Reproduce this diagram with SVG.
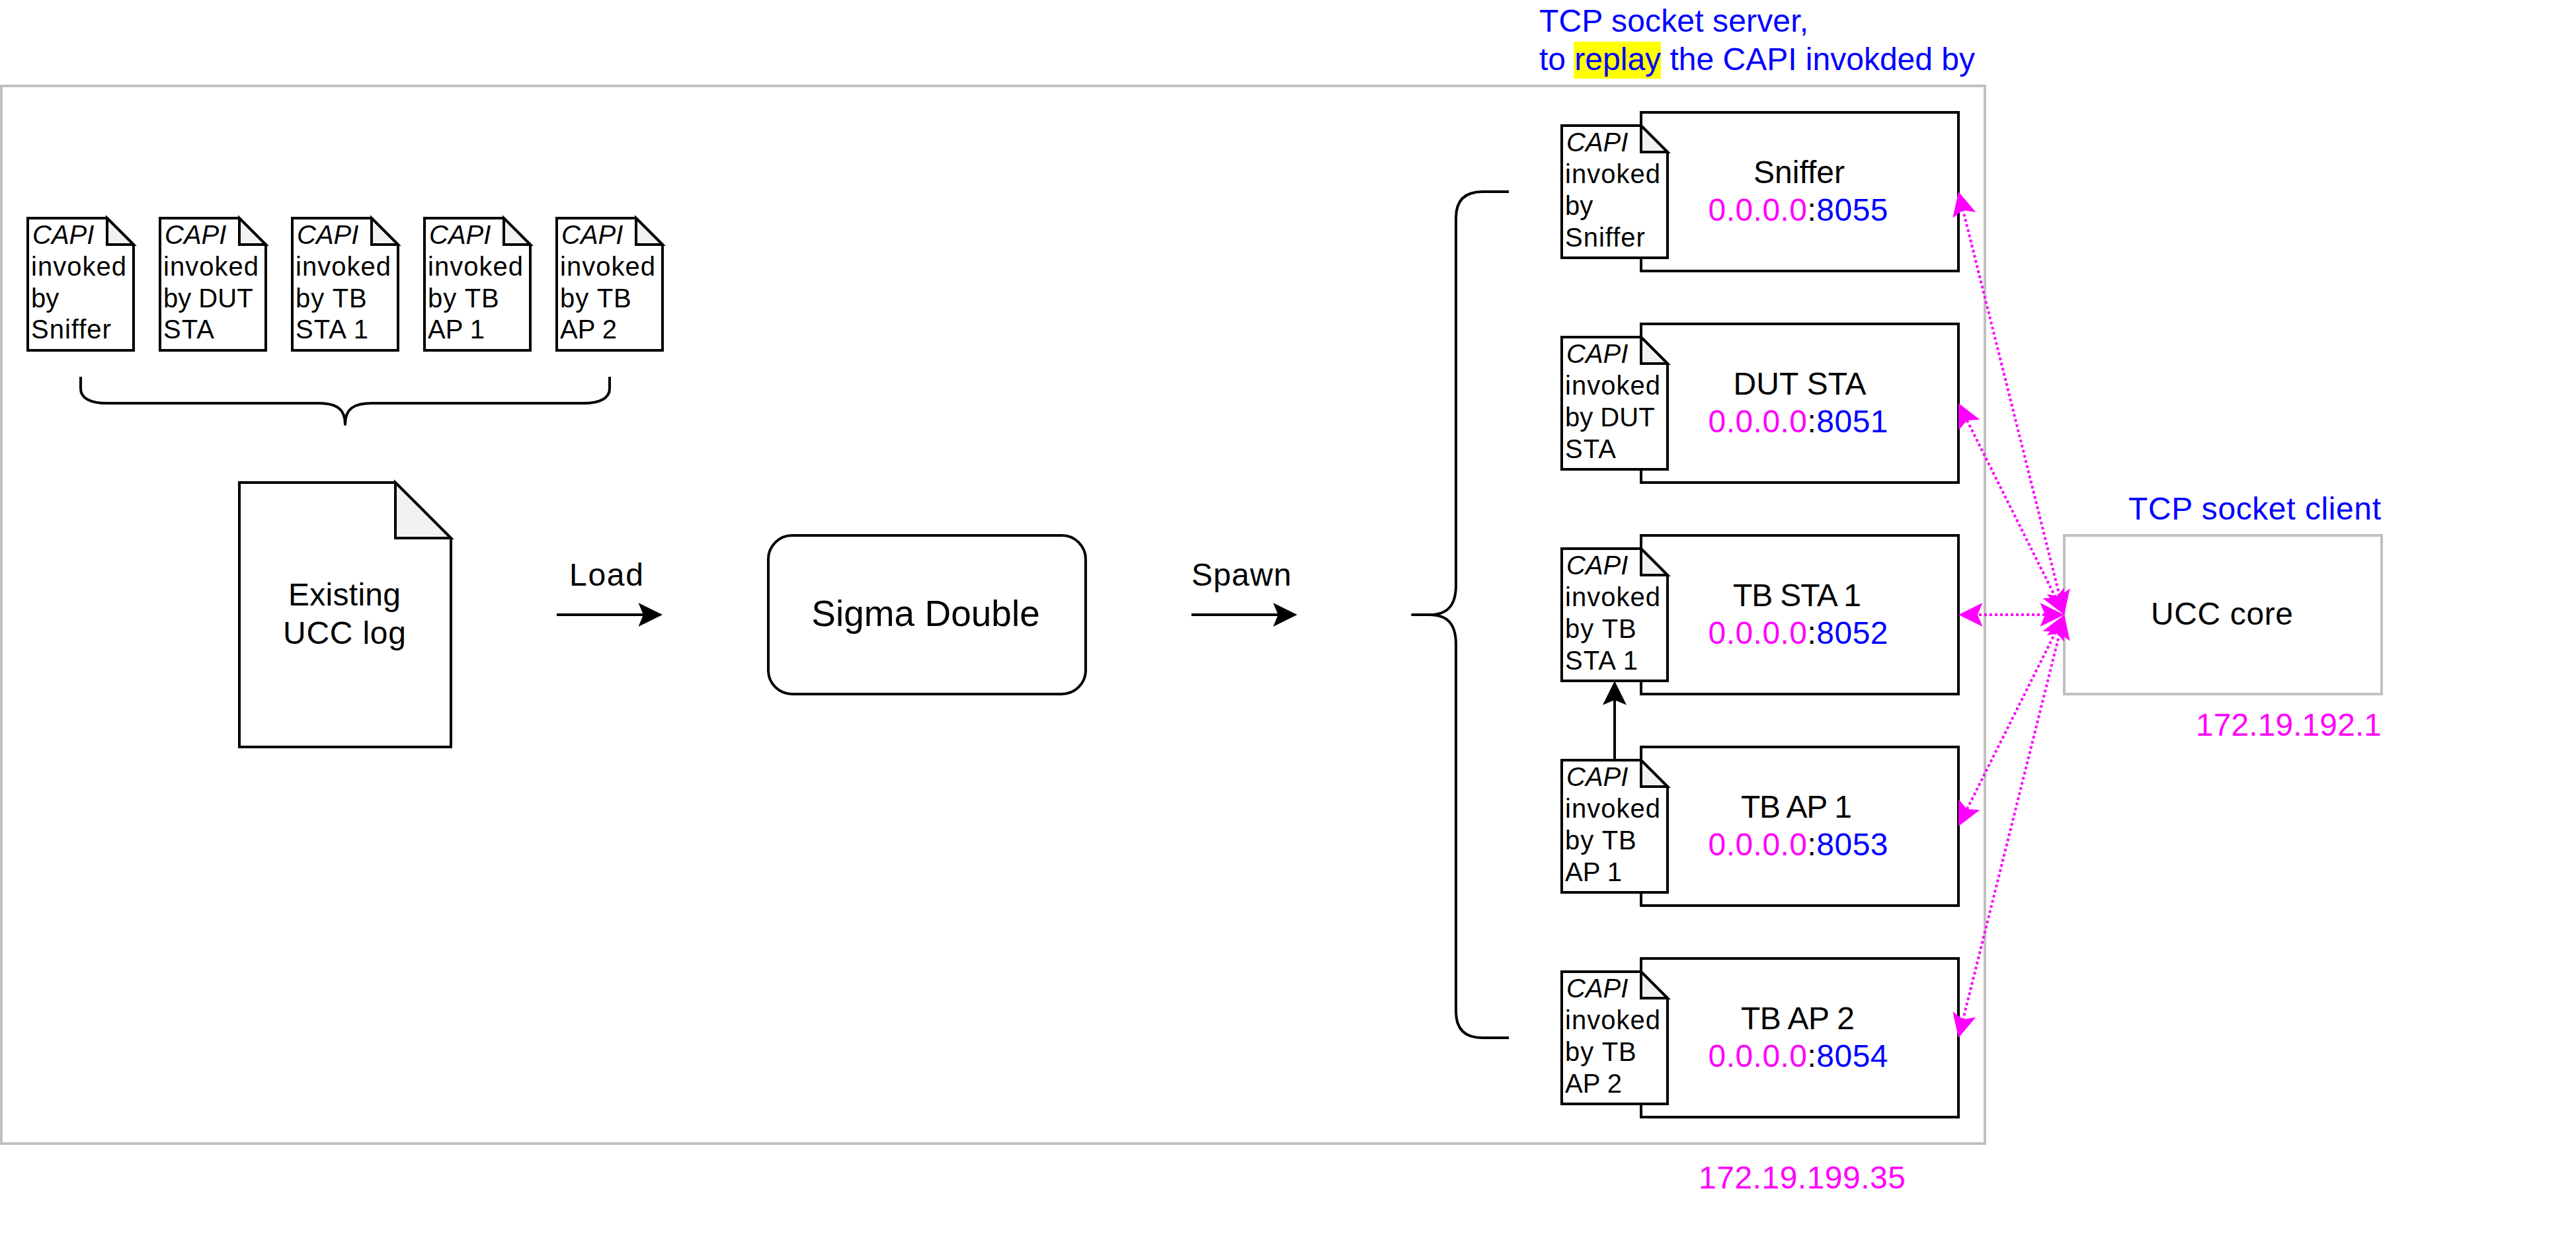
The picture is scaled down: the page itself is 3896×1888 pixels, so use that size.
<svg xmlns="http://www.w3.org/2000/svg" width="3896" height="1888" viewBox="0 0 3896 1888">
<style>
text{font-family:"Liberation Sans",Arial,Helvetica,sans-serif;fill:#000}
.t48{font-size:48px}
.t40{font-size:40px}
.t55{font-size:55px}
.m{text-anchor:middle}
.i{font-style:italic}
.ls{letter-spacing:1px}
.blue,.blue tspan{fill:#0000FF}
.mag{fill:#FF00FF}
.blu{fill:#0000FF}
.gray{fill:#FFFFFF;stroke:#C0C0C0;stroke-width:4}
.box{fill:#FFFFFF;stroke:#000;stroke-width:4}
.page{fill:#FFFFFF;stroke:#000;stroke-width:4;stroke-linejoin:miter}
.fold{fill:#F2F2F2;stroke:#000;stroke-width:4}
.brace{fill:none;stroke:#000;stroke-width:4;stroke-linejoin:round}
.arrow{fill:none;stroke:#000;stroke-width:4;marker-end:url(#headK)}
.link{fill:none;stroke:#FF00FF;stroke-width:4;stroke-dasharray:4 4;marker-start:url(#headM);marker-end:url(#headM)}
</style>
<defs>
<marker id="headK" markerUnits="userSpaceOnUse" markerWidth="37" markerHeight="36" refX="7.5" refY="18" orient="auto" overflow="visible"><path d="M36.5 18L0 0L7.5 18L0 36Z" fill="#000"/></marker>
<marker id="headM" markerUnits="userSpaceOnUse" markerWidth="37" markerHeight="36" refX="7.5" refY="18" orient="auto-start-reverse" overflow="visible"><path d="M36.5 18L0 0L7.5 18L0 36Z" fill="#FF00FF"/></marker>
<g id="note"><path class="page" d="M0 0H120L160 40V200H0Z"/><path class="fold" d="M120 0V40H160Z"/></g>
</defs>
<rect width="3896" height="1888" fill="#FFFFFF"/>
<g id="host-frame"><rect class="gray" x="2" y="130" width="3000" height="1600"/></g>

<g id="server-caption">
<rect x="2380" y="63" width="132" height="56" fill="#FFFF00"/>
<text class="t48 blue" x="2328" y="48" textLength="407">TCP socket server,</text>
<text class="t48 blue" x="2328" y="106">to replay the CAPI invokded by</text>
</g>

<g id="log-capi-sniffer"><use href="#note" x="42" y="330"/><text class="t40"><tspan class="i" x="49" y="369">CAPI</tspan><tspan class="ls" x="47" y="417">invoked</tspan><tspan x="47" y="465">by</tspan><tspan class="ls" x="47" y="512">Sniffer</tspan></text></g>
<g id="log-capi-dut"><use href="#note" x="242" y="330"/><text class="t40"><tspan class="i" x="249" y="369">CAPI</tspan><tspan class="ls" x="247" y="417">invoked</tspan><tspan x="247" y="465">by DUT</tspan><tspan class="ls" x="247" y="512">STA</tspan></text></g>
<g id="log-capi-sta1"><use href="#note" x="442" y="330"/><text class="t40"><tspan class="i" x="449" y="369">CAPI</tspan><tspan class="ls" x="447" y="417">invoked</tspan><tspan class="ls" x="447" y="465">by TB</tspan><tspan class="ls" x="447" y="512">STA 1</tspan></text></g>
<g id="log-capi-ap1"><use href="#note" x="642" y="330"/><text class="t40"><tspan class="i" x="649" y="369">CAPI</tspan><tspan class="ls" x="647" y="417">invoked</tspan><tspan class="ls" x="647" y="465">by TB</tspan><tspan x="647" y="512">AP 1</tspan></text></g>
<g id="log-capi-ap2"><use href="#note" x="842" y="330"/><text class="t40"><tspan class="i" x="849" y="369">CAPI</tspan><tspan class="ls" x="847" y="417">invoked</tspan><tspan class="ls" x="847" y="465">by TB</tspan><tspan x="847" y="512">AP 2</tspan></text></g>

<g id="brace-top"><path class="brace" d="M122 570V588C122 602 136 610 162 610H482C508 610 522 618 522 642C522 618 536 610 562 610H882C908 610 922 602 922 588V570"/></g>

<g id="existing-log">
<path class="page" d="M362 730H598L682 814V1130H362Z"/><path class="fold" d="M598 730V814H682Z"/>
<text class="t48" x="436" y="916" textLength="170">Existing</text>
<text class="t48" x="428" y="974" textLength="186">UCC log</text>
</g>
<g id="load-label"><text class="t48" x="861" y="886" textLength="112">Load</text></g>
<g id="sigma-double"><rect class="box" x="1162" y="810" width="480" height="240" rx="36" ry="36"/><text class="t55 m" x="1400" y="947">Sigma Double</text></g>
<g id="spawn-label"><text class="t48" x="1802" y="886" textLength="151">Spawn</text></g>
<g id="brace-right"><path class="brace" d="M2282 290H2242Q2202 290 2202 330V885C2202 915 2190 930 2162 930H2136H2162C2190 930 2202 945 2202 975V1530Q2202 1570 2242 1570H2282"/></g>

<g id="node-sniffer"><rect class="box" x="2482" y="170" width="480" height="240"/><use href="#note" x="2362" y="190"/>
<text class="t40"><tspan class="i" x="2369" y="229">CAPI</tspan><tspan class="ls" x="2367" y="277">invoked</tspan><tspan x="2367" y="325">by</tspan><tspan class="ls" x="2367" y="373">Sniffer</tspan></text>
<text class="t48 m" x="2721" y="277">Sniffer</text><text class="t48" x="2583.5" y="334" textLength="272"><tspan class="mag">0.0.0.0</tspan>:<tspan class="blu">8055</tspan></text></g>
<g id="node-dut-sta"><rect class="box" x="2482" y="490" width="480" height="240"/><use href="#note" x="2362" y="510"/>
<text class="t40"><tspan class="i" x="2369" y="549">CAPI</tspan><tspan class="ls" x="2367" y="597">invoked</tspan><tspan x="2367" y="645">by DUT</tspan><tspan class="ls" x="2367" y="693">STA</tspan></text>
<text class="t48 m" x="2722" y="597">DUT STA</text><text class="t48" x="2583.5" y="654" textLength="272"><tspan class="mag">0.0.0.0</tspan>:<tspan class="blu">8051</tspan></text></g>
<g id="node-tb-sta-1"><rect class="box" x="2482" y="810" width="480" height="240"/><use href="#note" x="2362" y="830"/>
<text class="t40"><tspan class="i" x="2369" y="869">CAPI</tspan><tspan class="ls" x="2367" y="917">invoked</tspan><tspan class="ls" x="2367" y="965">by TB</tspan><tspan class="ls" x="2367" y="1013">STA 1</tspan></text>
<text class="t48" x="2621" y="917" textLength="194">TB STA 1</text><text class="t48" x="2583.5" y="974" textLength="272"><tspan class="mag">0.0.0.0</tspan>:<tspan class="blu">8052</tspan></text></g>
<g id="node-tb-ap-1"><rect class="box" x="2482" y="1130" width="480" height="240"/><use href="#note" x="2362" y="1150"/>
<text class="t40"><tspan class="i" x="2369" y="1189">CAPI</tspan><tspan class="ls" x="2367" y="1237">invoked</tspan><tspan class="ls" x="2367" y="1285">by TB</tspan><tspan x="2367" y="1333">AP 1</tspan></text>
<text class="t48" x="2633" y="1237" textLength="168">TB AP 1</text><text class="t48" x="2583.5" y="1294" textLength="272"><tspan class="mag">0.0.0.0</tspan>:<tspan class="blu">8053</tspan></text></g>
<g id="node-tb-ap-2"><rect class="box" x="2482" y="1450" width="480" height="240"/><use href="#note" x="2362" y="1470"/>
<text class="t40"><tspan class="i" x="2369" y="1509">CAPI</tspan><tspan class="ls" x="2367" y="1557">invoked</tspan><tspan class="ls" x="2367" y="1605">by TB</tspan><tspan x="2367" y="1653">AP 2</tspan></text>
<text class="t48" x="2633" y="1557" textLength="172">TB AP 2</text><text class="t48" x="2583.5" y="1614" textLength="272"><tspan class="mag">0.0.0.0</tspan>:<tspan class="blu">8054</tspan></text></g>

<g id="host-ip"><text class="t48 mag" x="2569" y="1798" textLength="313">172.19.199.35</text></g>
<g id="client-caption"><text class="t48 blue" x="3219" y="786" textLength="382">TCP socket client</text></g>
<g id="ucc-core"><rect class="gray" x="3122" y="810" width="480" height="240"/><text class="t48" x="3253" y="945" textLength="215">UCC core</text></g>
<g id="client-ip"><text class="t48 mag" x="3321" y="1113" textLength="281">172.19.192.1</text></g>

<g id="connectors">
<path class="arrow" d="M842 930H973"/>
<path class="arrow" d="M1802 930H1933"/>
<path class="arrow" d="M2442 1150V1059"/>
<path class="link" d="M3115 901.9L2969 318.1"/>
<path class="link" d="M3109 904L2975 636"/>
<path class="link" d="M3093 930H2991"/>
<path class="link" d="M3109 956L2975 1224"/>
<path class="link" d="M3115 958.1L2969 1541.9"/>
</g>
</svg>
